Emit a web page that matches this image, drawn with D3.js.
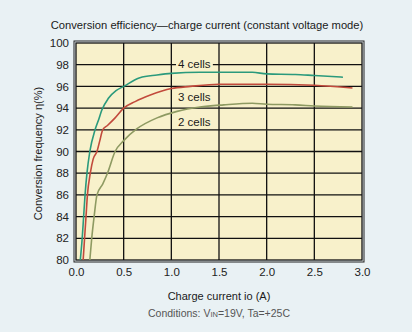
<!DOCTYPE html>
<html>
<head>
<meta charset="utf-8">
<script src="https://cdn.jsdelivr.net/npm/d3@7"></script>
<style>
  body { margin: 0; background: #e9f1f4; }
  svg { display: block; font-family: "Liberation Sans", Arial, sans-serif; }
</style>
</head>
<body>
<div id="chart"></div>
<script>
// values: charge current (A) vs efficiency (%)
var cells4Current = [0.045, 0.065, 0.08, 0.095, 0.115, 0.145, 0.20, 0.24, 0.27, 0.34, 0.42, 0.50, 0.67, 0.85, 1.0, 1.3, 1.6, 1.85, 2.0, 2.3, 2.5, 2.8];
var cells4Eff     = [80, 82, 84, 86, 88, 90, 92, 93, 93.8, 94.9, 95.6, 96.0, 96.8, 97.05, 97.2, 97.3, 97.3, 97.3, 97.15, 97.1, 97.0, 96.85];

var cells3Current = [0.075, 0.09, 0.105, 0.12, 0.15, 0.18, 0.22, 0.25, 0.28, 0.33, 0.41, 0.50, 0.62, 0.78, 1.0, 1.2, 1.5, 2.0, 2.5, 2.9];
var cells3Eff     = [80, 82, 84, 86, 88, 89.3, 90, 91, 92, 92.4, 93.1, 94.0, 94.6, 95.2, 95.8, 96.0, 96.2, 96.2, 96.1, 95.85];

var cells2Current = [0.145, 0.165, 0.19, 0.22, 0.28, 0.33, 0.41, 0.50, 0.64, 0.85, 1.06, 1.3, 1.55, 1.85, 2.0, 2.3, 2.5, 2.9];
var cells2Eff     = [80, 82, 84, 86, 87, 88, 90, 91, 92.1, 93.1, 93.7, 94.1, 94.3, 94.45, 94.35, 94.3, 94.2, 94.1];

var seriesNames = ["4 cells", "3 cells", "2 cells"];
var xTicks = [0, 0.5, 1.0, 1.5, 2.0, 2.5, 3.0];
var yTicks = [80, 82, 84, 86, 88, 90, 92, 94, 96, 98, 100];

var width = 412, height = 332;
var plot = {left: 76, right: 362, top: 43, bottom: 260};

var svg = d3.select("#chart").append("svg")
    .attr("width", width)
    .attr("height", height);

var x = d3.scaleLinear().domain([0, 3]).range([plot.left, plot.right]);
var y = d3.scaleLinear().domain([80, 100]).range([plot.bottom, plot.top]);

// Title
svg.append("text")
    .attr("x", 207).attr("y", 29)
    .attr("text-anchor", "middle")
    .style("font-size", "11.2px")
    .style("fill", "#1a1a1a")
    .text("Conversion efficiency\u2014charge current (constant voltage mode)");

// double frame + cream fill
svg.append("rect")
    .attr("x", plot.left - 2).attr("y", plot.top - 2)
    .attr("width", plot.right - plot.left + 4).attr("height", plot.bottom - plot.top + 4)
    .style("fill", "none").style("stroke", "#222").style("stroke-width", 1);
svg.append("rect")
    .attr("x", plot.left).attr("y", plot.top)
    .attr("width", plot.right - plot.left).attr("height", plot.bottom - plot.top)
    .style("fill", "#f8f1cb").style("stroke", "#111").style("stroke-width", 1.3);

// grid
var grid = svg.append("g");
grid.selectAll(".vx").data(xTicks.slice(1, -1)).enter().append("line")
    .attr("x1", function(d) { return x(d); }).attr("x2", function(d) { return x(d); })
    .attr("y1", plot.top).attr("y2", plot.bottom)
    .style("stroke", "#111").style("stroke-width", 1.3);
grid.selectAll(".hy").data(yTicks.slice(1, -1)).enter().append("line")
    .attr("y1", function(d) { return y(d); }).attr("y2", function(d) { return y(d); })
    .attr("x1", plot.left).attr("x2", plot.right)
    .style("stroke", "#111").style("stroke-width", 1.3);

// tick labels via d3 axes (no lines)
svg.append("g")
    .attr("transform", "translate(" + (plot.left - 7) + ",0)")
    .call(d3.axisLeft(y).tickValues(yTicks).tickSize(0).tickPadding(0));
svg.append("g")
    .attr("transform", "translate(0," + (plot.bottom + 8) + ")")
    .call(d3.axisBottom(x).tickValues(xTicks).tickFormat(d3.format(".1f")).tickSize(0).tickPadding(0));
svg.selectAll(".domain").remove();
svg.selectAll(".tick text")
    .style("font-size", "11.5px")
    .style("font-family", "'Liberation Sans', Arial, sans-serif")
    .style("fill", "#222");

// curves
svg.append("clipPath").attr("id", "clip").append("rect")
    .attr("x", plot.left).attr("y", plot.top)
    .attr("width", plot.right - plot.left).attr("height", plot.bottom - plot.top);

var series = [
    {name: seriesNames[0], xs: cells4Current, ys: cells4Eff, color: "#2a9a7c"},
    {name: seriesNames[1], xs: cells3Current, ys: cells3Eff, color: "#c24a3c"},
    {name: seriesNames[2], xs: cells2Current, ys: cells2Eff, color: "#8e9a62"}
];

var line = d3.line()
    .x(function(p) { return x(p[0]); })
    .y(function(p) { return y(p[1]); })
    .curve(d3.curveMonotoneX);

svg.append("g").attr("clip-path", "url(#clip)")
    .selectAll(".line").data(series).enter().append("path")
    .attr("class", "line")
    .attr("d", function(s) { return line(d3.zip(s.xs, s.ys)); })
    .style("fill", "none")
    .style("stroke", function(s) { return s.color; })
    .style("stroke-width", 1.6);

// series labels
var labelPos = [[1.07, 98.05], [1.07, 95.05], [1.07, 92.75]];
var labels = svg.selectAll(".lab").data(series).enter().append("g");
labels.each(function(s, i) {
    var g = d3.select(this);
    var t = g.append("text")
        .attr("x", x(labelPos[i][0])).attr("y", y(labelPos[i][1]))
        .attr("dy", "0.35em")
        .style("font-size", "11.5px")
        .style("fill", "#1a1a1a")
        .text(s.name);
    var b = t.node().getBBox();
    g.insert("rect", "text")
        .attr("x", b.x - 2).attr("y", b.y)
        .attr("width", b.width + 4).attr("height", b.height)
        .style("fill", "#f8f1cb");
});

// axis titles
svg.append("text")
    .attr("transform", "translate(42," + ((plot.top + plot.bottom) / 2 + 2) + ") rotate(-90)")
    .attr("text-anchor", "middle")
    .style("font-size", "11px")
    .style("fill", "#1a1a1a")
    .text("Conversion frequency \u03b7(%)");

svg.append("text")
    .attr("x", 219).attr("y", 300)
    .attr("text-anchor", "middle")
    .style("font-size", "11px")
    .style("fill", "#1a1a1a")
    .text("Charge current io (A)");

var cond = svg.append("text")
    .attr("x", 219).attr("y", 317)
    .attr("text-anchor", "middle")
    .style("font-size", "10.5px")
    .style("fill", "#555");
cond.append("tspan").text("Conditions: V");
cond.append("tspan").style("font-size", "7.5px").text("IN");
cond.append("tspan").text("=19V, Ta=+25C");
</script>
</body>
</html>
